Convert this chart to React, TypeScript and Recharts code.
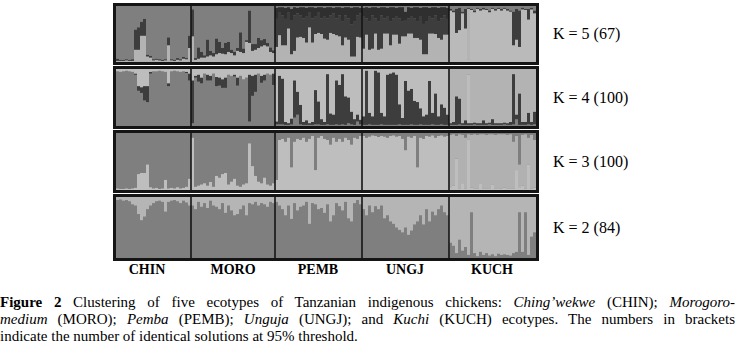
import { BarChart, Bar, XAxis, YAxis, ReferenceLine } from 'recharts';

// populations in plot order and number of individuals per population
const populations = ['CHIN', 'MORO', 'PEMB', 'UNGJ', 'KUCH'];
const popSizes = [25, 28, 29, 29, 29];
const popLabelX = [147, 233, 318, 405, 492];

// ---- K = 2 : medium (bottom), light (top) ----
const k2Medium = [
  [95, 96, 94, 95, 93, 88, 86, 72, 62, 68, 80, 86, 90, 93, 94, 92, 76, 92, 94, 95, 93, 90, 94, 91, 86],
  [86, 80, 92, 84, 90, 82, 94, 86, 84, 80, 90, 74, 86, 78, 70, 72, 80, 86, 70, 90, 88, 92, 86, 90, 88, 84, 92, 90],
  [92, 86, 80, 70, 86, 64, 90, 78, 84, 86, 92, 56, 90, 88, 80, 82, 74, 88, 60, 70, 90, 85, 78, 92, 65, 60, 90, 95, 88],
  [80, 70, 86, 75, 85, 80, 86, 65, 70, 60, 56, 50, 46, 42, 50, 38, 45, 55, 60, 70, 55, 80, 60, 76, 70, 80, 86, 75, 70],
  [25, 20, 8, 30, 12, 18, 5, 75, 8, 3, 10, 5, 8, 4, 6, 3, 7, 5, 6, 5, 4, 8, 10, 75, 10, 75, 5, 35, 42],
];

// ---- K = 3 : light, kuchi light, medium (bottom -> top) ----
const k3Light = [
  [3, 2, 2, 3, 2, 3, 4, 28, 30, 30, 45, 5, 3, 4, 2, 3, 18, 3, 4, 3, 5, 3, 4, 6, 20],
  [92, 6, 8, 10, 12, 8, 14, 6, 25, 22, 28, 30, 10, 15, 20, 8, 6, 10, 12, 82, 42, 25, 15, 12, 22, 10, 8, 12],
  [],
  [],
  [5, 8, 55, 3, 12, 2, 88, 4, 3, 2, 12, 3, 2, 3, 10, 2, 3, 2, 4, 2, 3, 2, 35, 5, 8, 3, 45, 2, 4],
];
const k3Medium = [
  [],
  [],
  [82, 12, 10, 15, 8, 60, 15, 10, 12, 8, 15, 10, 5, 65, 8, 5, 10, 12, 20, 8, 15, 10, 15, 8, 12, 20, 8, 10, 5],
  [5, 8, 6, 4, 5, 7, 5, 6, 8, 5, 4, 6, 5, 10, 30, 6, 8, 5, 60, 8, 10, 5, 6, 4, 8, 5, 4, 6, 5],
  [3, 2, 5, 2, 3, 8, 2, 3, 2, 3, 2, 2, 3, 2, 2, 3, 2, 2, 2, 3, 2, 15, 5, 55, 3, 2, 8, 3, 12],
];

// ---- K = 4 : medium, dark, light, kuchi light (bottom -> top) ----
const k4Medium = [
  [],
  [],
  [3, 3, 3, 2, 2, 3, 15, 20, 3, 2, 2, 2, 2, 3, 3, 2, 2, 3, 2, 2, 3, 2, 3, 2, 5, 3, 2, 8, 3],
  [2, 2, 3, 2, 2, 2, 3, 2, 2, 2, 2, 2, 3, 2, 2, 2, 3, 2, 2, 3, 2, 2, 2, 3, 2, 2, 3, 2, 2],
  [2, 2, 2, 3, 2, 2, 2, 2, 3, 2, 2, 2, 2, 3, 2, 2, 2, 2, 3, 2, 2, 3, 12, 2, 2, 2, 3, 2, 3],
];
const k4Dark = [
  [0, 0, 0, 0, 0, 0, 2, 8, 10, 25, 28, 3, 0, 0, 0, 0, 0, 5, 0, 0, 0, 0, 0, 2, 12],
  [75, 3, 12, 10, 0, 10, 8, 0, 16, 14, 15, 18, 0, 0, 3, 14, 0, 0, 0, 82, 35, 30, 0, 12, 10, 0, 0, 20],
  [5, 85, 80, 5, 3, 10, 65, 40, 34, 5, 8, 3, 5, 60, 40, 10, 5, 88, 20, 18, 77, 70, 88, 50, 45, 22, 10, 12, 8],
  [15, 95, 20, 15, 95, 92, 20, 15, 88, 90, 92, 88, 35, 12, 77, 60, 62, 42, 40, 28, 15, 18, 77, 20, 55, 15, 35, 30, 18],
  [3, 5, 50, 45, 3, 8, 3, 3, 3, 3, 3, 8, 3, 3, 10, 3, 3, 3, 3, 3, 5, 88, 8, 55, 5, 5, 20, 5, 22],
];
const k4Light = [
  [4, 5, 4, 3, 4, 5, 8, 30, 32, 30, 30, 5, 4, 4, 3, 4, 5, 25, 4, 3, 4, 5, 4, 5, 8],
  [20, 12, 10, 15, 8, 10, 12, 8, 14, 15, 18, 15, 10, 12, 10, 15, 12, 18, 15, 10, 12, 10, 8, 12, 10, 8, 10, 8],
  [],
  [],
  [0, 0, 0, 0, 0, 0, 85, 0, 0, 0, 0, 0, 0, 0, 0, 0, 0, 0, 0, 0, 0, 0, 0, 0, 0, 0, 0, 0, 0],
];

// ---- K = 5 : kuchi light, light, dark, darker, medium (bottom -> top) ----
const k5Light = [
  [2, 2, 2, 3, 2, 2, 22, 22, 47, 47, 10, 8, 3, 4, 3, 2, 3, 30, 3, 2, 4, 3, 6, 5, 25],
  [46, 4, 6, 8, 8, 10, 12, 10, 14, 16, 15, 14, 18, 16, 12, 20, 18, 16, 36, 34, 20, 22, 25, 28, 30, 28, 18, 16],
  [27, 48, 30, 30, 60, 14, 20, 44, 45, 43, 35, 62, 35, 50, 52, 50, 42, 40, 52, 50, 48, 46, 30, 44, 40, 10, 10, 45, 44],
  [24, 49, 22, 24, 51, 22, 24, 51, 51, 30, 49, 49, 33, 46, 46, 51, 51, 43, 43, 40, 14, 14, 51, 51, 50, 43, 40, 49, 49],
  [0, 0, 0, 0, 0, 0, 90, 0, 0, 0, 0, 0, 0, 0, 0, 0, 0, 0, 0, 0, 0, 0, 0, 0, 0, 0, 0, 0, 0],
];
const k5Dark = [
  [4, 2, 2, 2, 2, 3, 36, 40, 25, 30, 3, 3, 2, 2, 2, 2, 2, 14, 2, 2, 3, 2, 3, 2, 22],
  [48, 3, 20, 10, 4, 30, 8, 6, 28, 20, 10, 20, 18, 6, 6, 5, 35, 8, 3, 58, 12, 10, 18, 11, 11, 6, 8, 5],
  [],
  [],
  [3, 3, 43, 40, 3, 35, 2, 2, 3, 2, 3, 3, 2, 3, 2, 3, 2, 3, 2, 3, 2, 60, 55, 65, 3, 2, 19, 3, 5],
];
const k5Darker = [
  [],
  [],
  [20, 10, 15, 20, 10, 20, 15, 10, 15, 20, 15, 10, 20, 15, 10, 20, 15, 20, 15, 10, 20, 15, 25, 15, 20, 30, 25, 15, 10],
  [15, 20, 25, 15, 20, 25, 15, 20, 15, 25, 20, 15, 20, 25, 15, 20, 15, 20, 25, 15, 30, 25, 15, 20, 15, 25, 20, 15, 20],
  [],
];
const k5Medium = [
  [],
  [],
  [3, 2, 2, 3, 2, 5, 2, 3, 2, 2, 3, 2, 2, 3, 2, 2, 3, 2, 2, 3, 2, 2, 3, 2, 2, 3, 2, 2, 3],
  [3, 2, 3, 2, 2, 3, 2, 2, 3, 2, 2, 3, 2, 2, 10, 2, 3, 2, 2, 3, 2, 2, 3, 2, 2, 3, 2, 2, 3],
  [5, 8, 5, 3, 10, 5, 3, 5, 8, 3, 5, 3, 5, 8, 3, 5, 3, 5, 3, 5, 8, 10, 5, 8, 3, 5, 5, 3, 8],
];

type Part = { key: string; color: string; values?: number[][] };
type Panel = { label: string; top: number; height: number; parts: Part[]; main: string[] };

const panels: Panel[] = [
  {
    label: 'K = 5 (67)', top: 3, height: 62,
    parts: [
      { key: 'kuchi', color: '#bababa' },
      { key: 'light', color: '#b3b3b3', values: k5Light },
      { key: 'dark', color: '#3d3d3d', values: k5Dark },
      { key: 'darker', color: '#2f2f2f', values: k5Darker },
      { key: 'medium', color: '#7f7f7f', values: k5Medium },
    ],
    main: ['medium', 'medium', 'dark', 'dark', 'kuchi'],
  },
  {
    label: 'K = 4 (100)', top: 66, height: 63,
    parts: [
      { key: 'medium', color: '#7f7f7f', values: k4Medium },
      { key: 'dark', color: '#3d3d3d', values: k4Dark },
      { key: 'light', color: '#bdbdbd', values: k4Light },
      { key: 'kuchi', color: '#b3b3b3' },
    ],
    main: ['medium', 'medium', 'light', 'light', 'kuchi'],
  },
  {
    label: 'K = 3 (100)', top: 130, height: 63,
    parts: [
      { key: 'light', color: '#bebebe', values: k3Light },
      { key: 'kuchi', color: '#b1b1b1' },
      { key: 'medium', color: '#7f7f7f', values: k3Medium },
    ],
    main: ['medium', 'medium', 'light', 'light', 'kuchi'],
  },
  {
    label: 'K = 2 (84)', top: 194, height: 67,
    parts: [
      { key: 'medium', color: '#7f7f7f', values: k2Medium },
      { key: 'light', color: '#b5b5b5' },
    ],
    main: ['light', 'light', 'light', 'light', 'light'],
  },
];

// each population has one main cluster that takes whatever the others leave
function buildRows(panel: Panel) {
  const rows: Record<string, number>[] = [];
  let id = 0;
  popSizes.forEach((n, p) => {
    for (let j = 0; j < n; j++) {
      const row: Record<string, number> = { id };
      let sum = 0;
      panel.parts.forEach((part) => {
        if (part.key === panel.main[p]) return;
        const v = part.values?.[p]?.[j] ?? 0;
        row[part.key] = v;
        sum += v;
      });
      row[panel.main[p]] = Math.max(0, 100 - sum);
      rows.push(row);
      id++;
    }
  });
  return rows;
}

const popStarts = popSizes.map((_, i) => popSizes.slice(0, i).reduce((a, b) => a + b, 0));

const StructurePanel = ({ panel }: { panel: Panel }) => {
  const data = buildRows(panel);
  return (
    <div
      style={{
        position: 'absolute',
        left: 113,
        top: panel.top,
        width: 426,
        height: panel.height,
        border: '3px solid #151515',
        boxSizing: 'border-box',
        background: '#7f7f7f',
      }}
    >
      <BarChart
        width={420}
        height={panel.height - 6}
        data={data}
        margin={{ top: 0, right: 0, bottom: 0, left: 0 }}
        barCategoryGap={0}
        barGap={0}
      >
        <XAxis dataKey="id" hide />
        <YAxis hide domain={[0, 100]} />
        {panel.parts.map((part) => (
          <Bar
            key={part.key}
            dataKey={part.key}
            stackId="q"
            fill={part.color}
            isAnimationActive={false}
          />
        ))}
        {popStarts.slice(1).map((s) => (
          <ReferenceLine key={s} x={s} position="start" stroke="#151515" strokeWidth={1.6} />
        ))}
      </BarChart>
    </div>
  );
};

const serif = '"Liberation Serif", "Times New Roman", serif';

export default function App() {
  return (
    <div
      style={{
        position: 'absolute',
        left: 0,
        top: 0,
        width: 735,
        height: 354,
        background: '#fff',
        fontFamily: serif,
        color: '#000',
        overflow: 'hidden',
      }}
    >
      {panels.map((p) => (
        <StructurePanel key={p.label} panel={p} />
      ))}
      {panels.map((p) => (
        <div
          key={p.label + 't'}
          style={{
            position: 'absolute',
            left: 553,
            top: p.top + p.height / 2 - 10,
            fontSize: 16,
            lineHeight: '20px',
            whiteSpace: 'nowrap',
          }}
        >
          {p.label}
        </div>
      ))}
      {populations.map((name, i) => (
        <div
          key={name}
          style={{
            position: 'absolute',
            left: popLabelX[i] - 30,
            width: 60,
            top: 262,
            textAlign: 'center',
            fontWeight: 'bold',
            fontSize: 14,
            lineHeight: '16px',
          }}
        >
          {name}
        </div>
      ))}
      <div style={{ position: 'absolute', left: 0, top: 294, width: 735, fontSize: 15, lineHeight: '17px' }}>
        <div style={{ textAlign: 'justify', textAlignLast: 'justify', whiteSpace: 'nowrap' }}>
          <b>Figure 2</b> Clustering of five ecotypes of Tanzanian indigenous chickens: <i>Ching’wekwe</i> (CHIN); <i>Morogoro-</i>
        </div>
        <div style={{ textAlign: 'justify', textAlignLast: 'justify', whiteSpace: 'nowrap' }}>
          <i>medium</i> (MORO); <i>Pemba</i> (PEMB); <i>Unguja</i> (UNGJ); and <i>Kuchi</i> (KUCH) ecotypes. The numbers in brackets
        </div>
        <div>indicate the number of identical solutions at 95% threshold.</div>
      </div>
    </div>
  );
}
